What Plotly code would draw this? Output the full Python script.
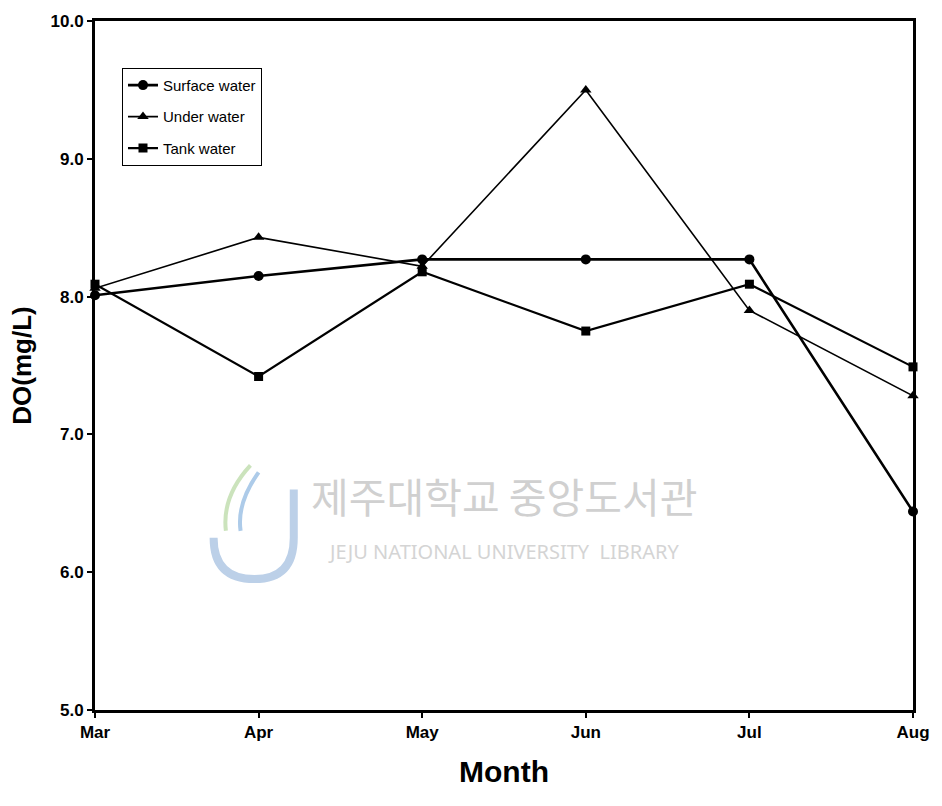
import plotly.graph_objects as go

months = ["Mar", "Apr", "May", "Jun", "Jul", "Aug"]
surface_water = [8.01, 8.15, 8.27, 8.27, 8.27, 6.44]
under_water = [8.06, 8.43, 8.22, 9.50, 7.90, 7.28]
tank_water = [8.09, 7.42, 8.18, 7.75, 8.09, 7.49]
y_ticks = [5.0, 6.0, 7.0, 8.0, 9.0, 10.0]

font_family = "Liberation Sans Narrow, Arial Narrow, Liberation Sans, Arial"
x_pos = list(range(len(months)))

fig = go.Figure()
series = [
    ("Surface water", surface_water, "circle", 2.6, 10),
    ("Under water", under_water, "triangle-up", 1.6, 10),
    ("Tank water", tank_water, "square", 2.2, 9),
]
for name, vals, symbol, lw, ms in series:
    fig.add_trace(go.Scatter(
        x=x_pos, y=vals, name=name, mode="lines+markers", legendgroup=name,
        line=dict(color="black", width=lw),
        marker=dict(symbol=symbol, size=ms, color="black"),
        cliponaxis=False,
    ))

# faint library watermark
fig.add_annotation(x=0.5, y=0.265, xref="paper", yref="paper",
                   text="제주대학교 중앙도서관", showarrow=False,
                   font=dict(family="Noto Sans CJK KR", size=41, color="#d0d0d0"))
fig.add_annotation(x=0.5, y=0.207, xref="paper", yref="paper",
                   text="JEJU NATIONAL UNIVERSITY  LIBRARY", showarrow=False,
                   font=dict(family="Noto Sans", size=20, color="#d4d4d4"))
fig.add_shape(type="path", xref="paper", yref="paper",
              path="M 0.243,0.32 L 0.243,0.25 Q 0.243,0.19 0.195,0.19 Q 0.145,0.19 0.145,0.25",
              line=dict(color="#bcd0e8", width=8))
fig.add_shape(type="path", xref="paper", yref="paper",
              path="M 0.16,0.26 Q 0.155,0.31 0.19,0.355", line=dict(color="#cbe3bc", width=4))
fig.add_shape(type="path", xref="paper", yref="paper",
              path="M 0.178,0.26 Q 0.173,0.30 0.20,0.345", line=dict(color="#adcbe9", width=4))

fig.update_layout(
    width=942, height=806,
    margin=dict(l=95, r=25, t=13, b=96),
    plot_bgcolor="white", paper_bgcolor="white",
    font=dict(family=font_family, color="black"),
    showlegend=True,
    legend=dict(
        x=0.033, y=0.932, xanchor="left", yanchor="top",
        bgcolor="white", bordercolor="black", borderwidth=1,
        font=dict(family=font_family, size=15, color="black"),
        itemwidth=30, tracegroupgap=9,
    ),
    xaxis=dict(
        range=[0, 5], tickvals=x_pos, ticktext=months,
        showgrid=False, zeroline=False,
        showline=True, linecolor="black", linewidth=3, mirror=True,
        ticks="outside", ticklen=5, tickwidth=1.5, tickcolor="black",
        tickfont=dict(family=font_family, size=17, color="black", weight="bold"),
        title=dict(text="Month", standoff=20,
                   font=dict(family=font_family, size=30, color="black", weight="bold")),
    ),
    yaxis=dict(
        range=[5.0, 10.0], tickvals=y_ticks, tickformat=".1f",
        showgrid=False, zeroline=False,
        showline=True, linecolor="black", linewidth=3, mirror=True,
        ticks="outside", ticklen=5, tickwidth=1.5, tickcolor="black",
        tickfont=dict(family=font_family, size=17, color="black", weight="bold"),
        title=dict(text="DO(mg/L)", standoff=12,
                   font=dict(family="Liberation Sans, Arial", size=26, color="black", weight="bold")),
    ),
)

fig.write_html("out.html")
